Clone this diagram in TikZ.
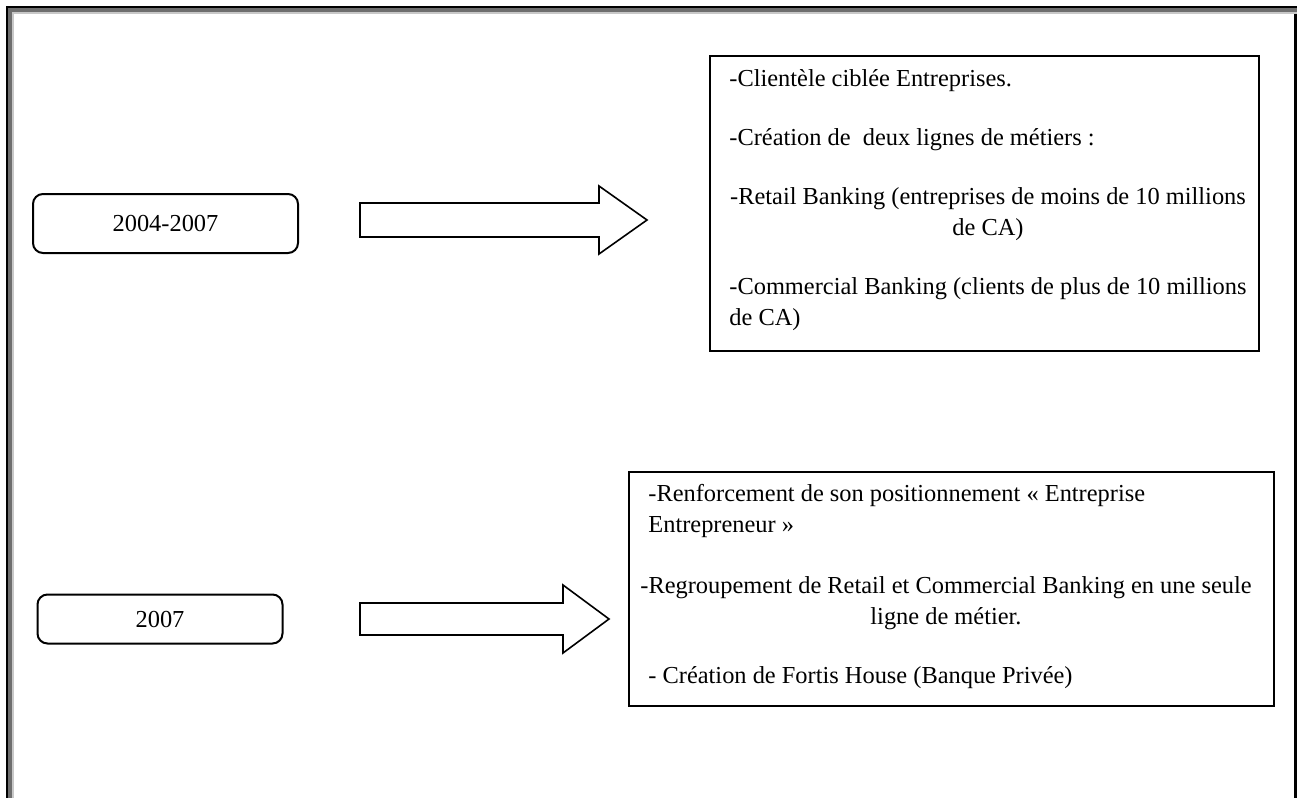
\documentclass[tikz,border=0pt]{standalone}
\usepackage{fontspec}
\setmainfont{Liberation Serif}
\usetikzlibrary{positioning}

\definecolor{cadregris}{HTML}{6E6E6E}
\definecolor{cadreclair}{HTML}{C8C8C8}

\begin{document}
\begin{tikzpicture}[x=0.5pt, y=-0.5pt,
    every node/.style={font=\fontsize{12.2}{15}\selectfont},
    annee/.style={draw, rounded corners=5pt, line width=1pt,
        inner sep=0pt},
    cadre/.style={draw, line width=1pt, inner sep=0pt, anchor=north west},
    ligne/.style={inner sep=0pt, anchor=base west},
    milieu/.style={inner sep=0pt, anchor=base},
    fleche/.style={draw, line width=0.8pt, fill=white, line join=miter}
]
\useasboundingbox (0,0) rectangle (1297,798);
% page frame
\fill[black]      (6,6)   rectangle (1297,8);
\fill[black]      (6,6)   rectangle (8,798);
\fill[cadregris]  (8,8)   rectangle (1297,12);
\fill[cadregris]  (8,8)   rectangle (12,798);
\fill[cadreclair] (12,12) rectangle (1297,14);
\fill[cadreclair] (12,12) rectangle (14,798);
\fill[black]      (1294,14) rectangle (1297,798);

% years
\node[annee, minimum width=132.5pt, minimum height=29.5pt]
    (a1) at (165.5,223.5) {2004-2007};
\node[annee, minimum width=122.5pt, minimum height=24.5pt]
    (a2) at (160,619) {2007};

% block arrows
\coordinate (f1) at (360,220);
\draw[fleche] (f1) ++(0,-17) -- ++(239,0) -- ++(0,-17) -- ++(48,34)
    -- ++(-48,34) -- ++(0,-17) -- ++(-239,0) -- cycle;
\coordinate (f2) at (360,619);
\draw[fleche] (f2) ++(0,-16) -- ++(203,0) -- ++(0,-18) -- ++(46,34)
    -- ++(-46,34) -- ++(0,-18) -- ++(-203,0) -- cycle;

% first period
\node[cadre, minimum width=274.5pt, minimum height=147.5pt]
    (c1) at (709,55) {};
\node[ligne] (t11) at (729,86)  {-Clientèle ciblée Entreprises.};
\node[ligne] (t12) at (729,145) {-Création de\ \ deux lignes de métiers :};
\node[milieu] (t13) at (988,204)
    {-Retail Banking (entreprises de moins de 10 millions};
\node[milieu] (t14) at (988,235) {de CA)};
\node[ligne] (t15) at (729,294)
    {-Commercial Banking (clients de plus de 10 millions};
\node[ligne] (t16) at (729,325) {de CA)};

% second period
\node[cadre, minimum width=322.5pt, minimum height=117pt]
    (c2) at (628,471) {};
\node[ligne] (t21) at (648,501)
    {-Renforcement de son positionnement « Entreprise};
\node[ligne] (t22) at (648,532) {Entrepreneur »};
\node[milieu] (t23) at (946,593)
    {-Regroupement de Retail et Commercial Banking en une seule};
\node[milieu] (t24) at (946,624) {ligne de métier.};
\node[ligne] (t25) at (648,683) {- Création de Fortis House (Banque Privée)};
\end{tikzpicture}
\end{document}
